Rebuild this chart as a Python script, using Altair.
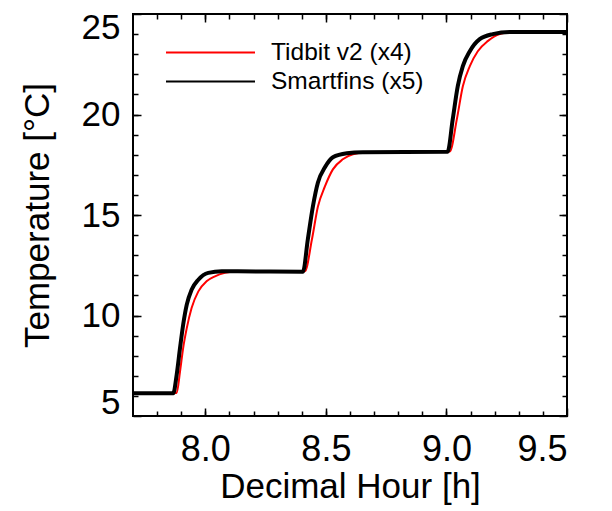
import altair as alt
import pandas as pd

# ---- data ----
tidbit_hour = [7.70, 7.881, 7.895, 7.908, 7.923, 7.943, 7.971, 8.005, 8.040, 8.081, 8.135,
               8.413, 8.442, 8.467, 8.496, 8.529, 8.570, 8.612, 8.670,
               9.014, 9.043, 9.068, 9.097, 9.130, 9.171, 9.221, 9.291, 9.50]
tidbit_temp = [6.15, 6.15, 7.21, 8.38, 9.37, 10.37, 11.20, 11.70, 11.95, 12.12, 12.20,
               12.20, 13.78, 15.42, 16.42, 17.27, 17.77, 18.02, 18.12,
               18.16, 19.76, 21.41, 22.41, 23.15, 23.65, 24.00, 24.12, 24.14]

smart_hour = [7.70, 7.867, 7.881, 7.895, 7.908, 7.923, 7.943, 7.971, 8.012, 8.068, 8.135,
              8.405, 8.425, 8.446, 8.467, 8.496, 8.529, 8.587, 8.653,
              9.005, 9.026, 9.047, 9.068, 9.097, 9.138, 9.192, 9.262, 9.50]
smart_temp = [6.13, 6.13, 7.04, 8.38, 9.54, 10.54, 11.28, 11.78, 12.12, 12.20, 12.20,
              12.18, 13.78, 15.42, 16.62, 17.37, 17.87, 18.07, 18.12,
              18.15, 19.76, 21.41, 22.41, 23.15, 23.75, 24.00, 24.10, 24.10]

series_names = ["Tidbit v2 (x4)", "Smartfins (x5)"]
series_colors = ["#ff0000", "#000000"]

x_major = [8.0, 8.5, 9.0, 9.5]
x_minor = [7.8, 7.9, 8.0, 8.1, 8.2, 8.3, 8.4, 8.5, 8.6, 8.7, 8.8, 8.9, 9.0, 9.1, 9.2, 9.3, 9.4]
y_major = [5, 10, 15, 20, 25]
y_minor = list(range(6, 25))

df = pd.concat([
    pd.DataFrame({"hour": tidbit_hour, "temp": tidbit_temp, "series": series_names[0]}),
    pd.DataFrame({"hour": smart_hour, "temp": smart_temp, "series": series_names[1]}),
], ignore_index=True)

FONT = "Liberation Sans"
xs = alt.Scale(domain=[7.7, 9.5], nice=False, zero=False)
ys = alt.Scale(domain=[5, 25], nice=False, zero=False)

def ax(orient, values, size, labels=False, title=None, fmt=None, **kw):
    d = dict(orient=orient, values=values, tickSize=size, offset=-size, domain=False,
             grid=False, labels=labels, ticks=True, tickColor="black", tickWidth=1.5)
    d["title"] = title
    if fmt:
        d["format"] = fmt
    d.update(kw)
    return alt.Axis(**d)

color = alt.Color(
    "series:N",
    scale=alt.Scale(domain=series_names, range=series_colors),
    legend=alt.Legend(
        title=None, orient="none", legendX=32, legendY=24,
        symbolType="stroke", symbolSize=7921, symbolStrokeWidth=2,
        clipHeight=29, rowPadding=0, padding=0, labelOffset=15,
        labelFont=FONT, labelFontSize=24.5, labelColor="black", labelLimit=400,
    ),
)

red = alt.Chart(df).transform_filter(alt.datum.series == series_names[0]).mark_line(
    strokeWidth=2, interpolate="monotone"
).encode(
    x=alt.X("hour:Q", scale=xs, axis=ax("bottom", x_major, 8, labels=True, title="Decimal Hour [h]",
                                        fmt=".1f", labelPadding=16, labelFontSize=36,
                                        titlePadding=2, titleFontSize=35)),
    y=alt.Y("temp:Q", scale=ys, axis=ax("left", y_major, 8, labels=True, title="Temperature [°C]",
                                        fmt="d", labelPadding=13, labelFontSize=35, labelFlush=True,
                                        labelFlushOffset=4,
                                        titlePadding=26, titleFontSize=35)),
    color=color,
)

black = alt.Chart(df).transform_filter(alt.datum.series == series_names[1]).mark_line(
    strokeWidth=4, interpolate="monotone"
).encode(
    x=alt.X("hour:Q", scale=xs, axis=ax("bottom", x_minor, 5)),
    y=alt.Y("temp:Q", scale=ys, axis=ax("left", y_minor, 5)),
    color=color,
)

ghost1 = alt.Chart(df).mark_line(opacity=0).encode(
    x=alt.X("hour:Q", scale=xs, axis=ax("top", x_major, 8)),
    y=alt.Y("temp:Q", scale=ys, axis=ax("right", y_major, 8)),
    detail="series:N",
)
ghost2 = alt.Chart(df).mark_line(opacity=0).encode(
    x=alt.X("hour:Q", scale=xs, axis=ax("top", x_minor, 5)),
    y=alt.Y("temp:Q", scale=ys, axis=ax("right", y_minor, 5)),
    detail="series:N",
)

chart = alt.layer(red, black, ghost1, ghost2).resolve_axis(
    x="independent", y="independent"
).properties(
    width=434, height=402,
    autosize=alt.AutoSizeParams(type="none"),
    padding={"left": 125, "top": 6, "right": 30, "bottom": 89},
).configure_view(
    stroke="black", strokeWidth=2
).configure_axis(
    labelFont=FONT, titleFont=FONT, labelColor="black", titleColor="black",
    titleFontWeight="normal",
)

chart.save("out.html", embed_options={"renderer": "svg", "actions": False})
